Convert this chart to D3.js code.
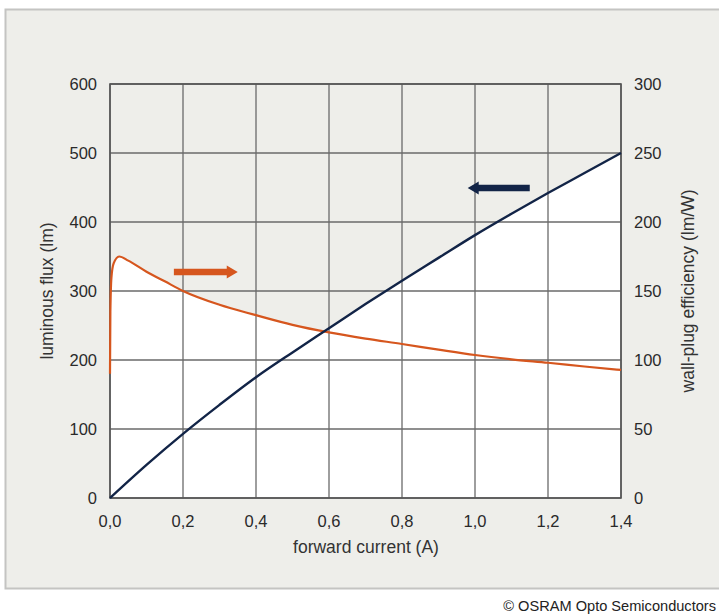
<!DOCTYPE html>
<html><head><meta charset="utf-8">
<script src="https://cdn.jsdelivr.net/npm/d3@7"></script>
<style>
html,body{margin:0;padding:0;background:#fff;}
svg{display:block;font-family:"Liberation Sans",Arial,Helvetica,sans-serif;}
</style></head>
<body><svg id="c" width="719" height="614"></svg>
<script>
const xTicks = [0, 0.2, 0.4, 0.6, 0.8, 1.0, 1.2, 1.4];
const fluxTicks = [0, 100, 200, 300, 400, 500, 600];
const effTicks = [0, 50, 100, 150, 200, 250, 300];
const fluxCurrent = [0, 0.1, 0.2, 0.3, 0.4, 0.5, 0.6, 0.7, 0.8, 0.9, 1.0, 1.1, 1.2, 1.3, 1.4];
const fluxValues = [0, 48, 93, 135, 175, 211, 246, 281, 315, 348, 381, 412, 442, 471, 500];
const effCurrent = [0, 0.001, 0.004, 0.01, 0.025, 0.05, 0.1, 0.15, 0.2, 0.3, 0.4, 0.5, 0.6, 0.7, 0.8, 0.9, 1.0, 1.1, 1.2, 1.3, 1.4];
const effValues = [90, 135, 160, 170, 175, 172, 164, 157, 150, 140, 132.5, 125.5, 120, 115.5, 111.6, 107.5, 103.6, 100.5, 98, 95.3, 92.8];

const svg = d3.select("#c");
const L = 110, R = 621, T = 84, B = 498;
const x = d3.scaleLinear().domain([0, 1.4]).range([L, R]);
const yL = d3.scaleLinear().domain([0, 600]).range([B, T]);
const yR = d3.scaleLinear().domain([0, 300]).range([B, T]);

// panel
svg.append("rect").attr("x", 5.5).attr("y", 9.5).attr("width", 720).attr("height", 579)
  .attr("fill", "#eeeeea").attr("stroke", "#c4c4c2").attr("stroke-width", 2);

const fluxData = fluxCurrent.map((c, i) => [c, fluxValues[i]]);
const effData = effCurrent.map((c, i) => [c, effValues[i]]);

// white fill under both curves
svg.append("path").datum(fluxData)
  .attr("d", d3.area().x(d => x(d[0])).y0(B).y1(d => yL(d[1])).curve(d3.curveMonotoneX))
  .attr("fill", "#ffffff");
svg.append("path").datum(effData)
  .attr("d", d3.area().x(d => x(d[0])).y0(B).y1(d => yR(d[1])).curve(d3.curveMonotoneX))
  .attr("fill", "#ffffff");

// grid
const g = svg.append("g");
g.selectAll(".vx").data(xTicks).join("line")
  .attr("x1", d => x(d)).attr("x2", d => x(d)).attr("y1", T).attr("y2", B)
  .attr("stroke", "#6a6a6a").attr("stroke-width", 1.3);
g.selectAll(".hy").data(fluxTicks).join("line")
  .attr("y1", d => yL(d)).attr("y2", d => yL(d)).attr("x1", L).attr("x2", R)
  .attr("stroke", "#6a6a6a").attr("stroke-width", 1.3);
svg.append("rect").attr("x", L).attr("y", T).attr("width", R - L).attr("height", B - T)
  .attr("fill", "none").attr("stroke", "#555").attr("stroke-width", 1.6);

// curves
svg.append("path").datum(effData)
  .attr("d", d3.line().x(d => x(d[0])).y(d => yR(d[1])).curve(d3.curveMonotoneX))
  .attr("fill", "none").attr("stroke", "#d6561e").attr("stroke-width", 2.2);
svg.append("path").datum(fluxData)
  .attr("d", d3.line().x(d => x(d[0])).y(d => yL(d[1])).curve(d3.curveMonotoneX))
  .attr("fill", "none").attr("stroke", "#122447").attr("stroke-width", 2.4);

// axes labels
const tickFont = 16.5;
svg.selectAll(".tl").data(fluxTicks).join("text")
  .attr("x", L - 13).attr("y", d => yL(d) + 6).attr("text-anchor", "end")
  .attr("font-size", tickFont).attr("fill", "#2a2a2a").text(d => d);
svg.selectAll(".tr").data(effTicks).join("text")
  .attr("x", R + 13).attr("y", d => yR(d) + 6).attr("text-anchor", "start")
  .attr("font-size", tickFont).attr("fill", "#2a2a2a").text(d => d);
svg.selectAll(".tx").data(xTicks).join("text")
  .attr("x", d => x(d)).attr("y", 527).attr("text-anchor", "middle")
  .attr("font-size", tickFont).attr("fill", "#2a2a2a").text(d => d.toFixed(1).replace(".", ","));

const titleFont = 17.5;
svg.append("text").attr("x", 366).attr("y", 553).attr("text-anchor", "middle")
  .attr("font-size", titleFont).attr("fill", "#333").text("forward current (A)");
svg.append("text").attr("transform", "translate(53," + ((T + B) / 2) + ") rotate(-90)")
  .attr("text-anchor", "middle").attr("font-size", titleFont).attr("fill", "#333").text("luminous flux (lm)");
svg.append("text").attr("transform", "translate(694," + ((T + B) / 2) + ") rotate(-90)")
  .attr("text-anchor", "middle").attr("font-size", titleFont).attr("fill", "#333").text("wall-plug efficiency (lm/W)");

// arrows
function arrow(x0, x1, yy, color) {
  const dir = x1 > x0 ? 1 : -1;
  const hl = 11, hh = 6.5, bh = 3.3;
  const xb = x1 - dir * hl;
  svg.append("path").attr("d",
    `M${x0},${yy - bh}L${xb},${yy - bh}L${xb},${yy - hh}L${x1},${yy}L${xb},${yy + hh}L${xb},${yy + bh}L${x0},${yy + bh}Z`)
    .attr("fill", color);
}
arrow(x(0.175), x(0.35), 272, "#d6561e");
arrow(x(1.15), x(0.98), 188, "#122447");

svg.append("text").attr("x", 716).attr("y", 611).attr("text-anchor", "end").attr("font-size", 14.6).attr("fill", "#222")
  .text("© OSRAM Opto Semiconductors");
</script></body></html>
